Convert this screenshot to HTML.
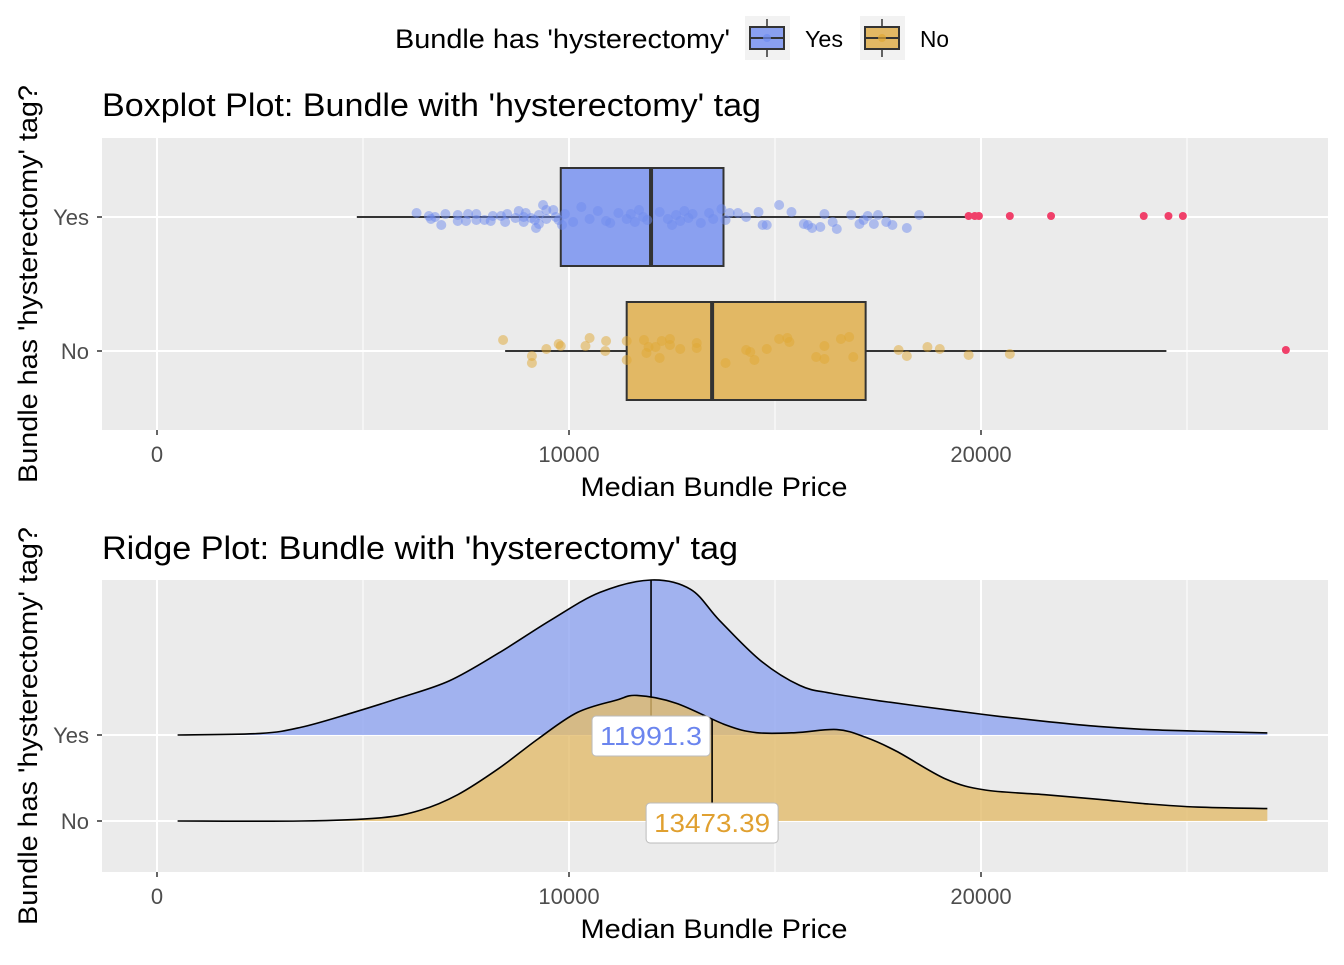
<!DOCTYPE html>
<html><head><meta charset="utf-8"><style>
body{margin:0;background:#fff}
text{font-family:"Liberation Sans",Arial,sans-serif}
</style></head><body>
<svg id="c" width="1344" height="960" viewBox="0 0 1344 960" xmlns="http://www.w3.org/2000/svg">
<g>
<text x="395" y="48" font-size="27" textLength="335" lengthAdjust="spacingAndGlyphs" fill="#000">Bundle has 'hysterectomy'</text>
<rect x="745" y="16" width="45" height="44" fill="#f2f2f2"/>
<line x1="767" y1="19" x2="767" y2="57" stroke="#333" stroke-width="1.5"/>
<rect x="750" y="27" width="34" height="22" fill="#8aa0f0" stroke="#333" stroke-width="2"/>
<line x1="750" y1="38" x2="784" y2="38" stroke="#333" stroke-width="2"/>
<circle cx="767" cy="38" r="4" fill="#6f8cee" opacity="0.7"/>
<text x="805" y="47" font-size="23" textLength="38" lengthAdjust="spacingAndGlyphs">Yes</text>
<rect x="860" y="16" width="45" height="44" fill="#f2f2f2"/>
<line x1="882" y1="19" x2="882" y2="57" stroke="#333" stroke-width="1.5"/>
<rect x="865" y="27" width="34" height="22" fill="#e2b864" stroke="#333" stroke-width="2"/>
<line x1="865" y1="38" x2="899" y2="38" stroke="#333" stroke-width="2"/>
<circle cx="882" cy="38" r="4" fill="#e0a733" opacity="0.7"/>
<text x="920" y="47" font-size="23" textLength="29" lengthAdjust="spacingAndGlyphs">No</text>
</g>
<text x="102" y="116" font-size="32" textLength="659" lengthAdjust="spacingAndGlyphs">Boxplot Plot: Bundle with 'hysterectomy' tag</text>
<text x="102" y="559" font-size="32" textLength="636" lengthAdjust="spacingAndGlyphs">Ridge Plot: Bundle with 'hysterectomy' tag</text>
<text transform="translate(37,284) rotate(-90)" text-anchor="middle" font-size="27" textLength="398" lengthAdjust="spacingAndGlyphs">Bundle has 'hysterectomy' tag?</text>
<text transform="translate(37,726) rotate(-90)" text-anchor="middle" font-size="27" textLength="398" lengthAdjust="spacingAndGlyphs">Bundle has 'hysterectomy' tag?</text>
<text x="714" y="496" text-anchor="middle" font-size="27" textLength="267" lengthAdjust="spacingAndGlyphs">Median Bundle Price</text>
<text x="714" y="938" text-anchor="middle" font-size="27" textLength="267" lengthAdjust="spacingAndGlyphs">Median Bundle Price</text>
<g id="p1"></g><g id="p2"></g>
</svg>
<script>
const ticks=[0,10000,20000];
const minorTicks=[5000,15000,25000];
const yesPoints=[6300,6600,6650,6750,6900,7000,7300,7300,7500,7550,7750,7750,7950,8150,8100,8350,8450,8500,8700,8780,8900,8900,8950,9080,9170,9200,9270,9270,9370,9450,9450,9620,9680,9750,9830,9900,10100,10300,10500,10700,10900,11000,11200,11400,11500,11600,11700,11800,11900,12200,12400,12500,12600,12700,12800,12900,13000,13200,13400,13500,13700,13800,13900,14100,14300,14600,14800,14700,15100,15400,15800,15700,15900,16100,16200,16500,16400,16850,17050,17500,17150,17250,17400,17700,17850,18200,18500];
const yesJitter=[-4,-1,2,0,8,-3,-2,4,4,-3,3,-3,3,-1,4,-1,5,-3,1,-6,0,5,-4,1,3,11,7,-2,-12,-7,2,-7,0,3,8,-3,5,-10,2,-6,4,6,-4,2,-3,5,-7,0,3,-5,2,8,-2,4,-6,1,-3,6,-4,2,-8,3,-4,-4,0,-5,8,8,-12,-5,8,7,11,10,-3,12,5,-2,7,-2,3,-1,7,5,8,11,-2];
const yesOutliers=[19700,19850,19950,20700,21700,23950,24550,24900];
const noPoints=[8400,9100,9100,9450,9800,9750,10400,10500,10880,10900,11400,11400,11820,11930,11880,12100,12200,12250,12450,12450,12700,13100,13100,13800,14300,14400,14500,14800,15100,15300,15350,16000,16200,16200,16900,18000,18200,19000,20700,18700,16600,16800,19700];
const noJitter=[-11,5,12,-2,-5,-7,-5,-13,0,-10,9,-10,-11,-4,2,-4,7,-10,-6,-12,-2,-8,-3,12,-1,1,9,-2,-12,-13,-9,6,8,-5,6,-1,5,-2,3,-4,-12,-14,4];
const noOutliers=[27400];
const yesBox={lo:4850,q1:9800,med:11991.3,q3:13750,hi:19650};
const noBox={lo:8450,q1:11400,med:13473.39,q3:17200,hi:24500};
const densX=[500,2500,3500,4700,5900,7100,8300,9550,10750,11991,12950,13650,14650,15600,16350,17550,19250,20450,21650,22850,24050,25250,26950];
const yesDens=[0,1,5,14,24,35,53,74,92,100,94,74,48,32,27,22,16,12,8.5,5.5,3.5,2.5,1.3];
const noDensX=[500,3500,5400,6400,7300,8300,9250,10200,11150,11650,12600,13800,14550,15500,16500,17200,17950,19150,20100,21550,22850,24050,25250,26950];
const noDens=[0,0,2,7,17,34,53,70,78,81,76,62,57,57,59,54,45,27,20,17,14,11,9,8];
const yesLabel="11991.3", noLabel="13473.39";

const NS="http://www.w3.org/2000/svg";
const X=v=>157+v*0.0412;
function el(p,tag,a){const e=document.createElementNS(NS,tag);for(const k in a)e.setAttribute(k,a[k]);p.appendChild(e);return e;}
function panel(g,top,bot,rowYs,name){
  const bg=el(g,'rect',{x:102,y:top,width:1226,height:bot-top,fill:'#ebebeb'});
  
  
  minorTicks.forEach(t=>el(g,'line',{x1:X(t),x2:X(t),y1:top,y2:bot,stroke:'#fff','stroke-width':1}));
  ticks.forEach(t=>{
    el(g,'line',{x1:X(t),x2:X(t),y1:top,y2:bot,stroke:'#fff','stroke-width':2});
    el(g,'line',{x1:X(t),x2:X(t),y1:bot,y2:bot+5,stroke:'#333','stroke-width':1.5});
    const tx=el(g,'text',{x:X(t),y:bot+32,'text-anchor':'middle','font-size':22,fill:'#4d4d4d'});tx.textContent=t;
    
    
  });
  rowYs.forEach(r=>{
    el(g,'line',{x1:102,x2:1328,y1:r[1],y2:r[1],stroke:'#fff','stroke-width':2});
    el(g,'line',{x1:97,x2:102,y1:r[1],y2:r[1],stroke:'#333','stroke-width':1.5});
    const tx=el(g,'text',{x:89,y:r[1]+8,'text-anchor':'end','font-size':22,fill:'#4d4d4d'});tx.textContent=r[0];
    
    
  });
}
const p1=document.getElementById('p1');
panel(p1,138,430,[['Yes',217],['No',351]],'boxplot');
function box(b,cy,fill,name){
  el(p1,'line',{x1:X(b.lo),x2:X(b.q1),y1:cy,y2:cy,stroke:'#333','stroke-width':2});
  el(p1,'line',{x1:X(b.q3),x2:X(b.hi),y1:cy,y2:cy,stroke:'#333','stroke-width':2});
  const r=el(p1,'rect',{x:X(b.q1),y:cy-49,width:X(b.q3)-X(b.q1),height:98,fill:fill,stroke:'#333','stroke-width':2});
  
  
  el(p1,'line',{x1:X(b.med),x2:X(b.med),y1:cy-49,y2:cy+49,stroke:'#333','stroke-width':4});
}
box(yesBox,217,'#8aa0f0','box-yes');
box(noBox,351,'#e2b864','box-no');
yesPoints.forEach((v,i)=>{const c=el(p1,'circle',{cx:X(v),cy:217+(yesJitter[i]||0),r:5,fill:'#6f8cee','fill-opacity':0.5});
  
  });
noPoints.forEach((v,i)=>{const c=el(p1,'circle',{cx:X(v),cy:351+(noJitter[i]||0),r:5,fill:'#e0a733','fill-opacity':0.5});
  
  });
yesOutliers.forEach(v=>{const c=el(p1,'circle',{cx:X(v),cy:216,r:4,fill:'#f0406a'});
  
  });
noOutliers.forEach(v=>{const c=el(p1,'circle',{cx:X(v),cy:350,r:4,fill:'#f0406a'});
  
  });

const p2=document.getElementById('p2');
panel(p2,580,872,[['Yes',735],['No',821]],'ridge');
const S=1.55;
function ridge(xs,ds,base,fill,name){
  const pts=xs.map((x,i)=>[X(x),base-ds[i]*S]);
  let line='M'+pts[0][0]+','+pts[0][1];
  for(let i=1;i<pts.length;i++){
    const p0=pts[Math.max(0,i-2)],p1_=pts[i-1],p2_=pts[i],p3=pts[Math.min(pts.length-1,i+1)];
    const c1=[p1_[0]+(p2_[0]-p0[0])/6,p1_[1]+(p2_[1]-p0[1])/6],c2=[p2_[0]-(p3[0]-p1_[0])/6,p2_[1]-(p3[1]-p1_[1])/6];
    line+=' C'+c1+' '+c2+' '+p2_;
  }
  const area=line+' L'+pts[pts.length-1][0]+','+base+' L'+pts[0][0]+','+base+'Z';
  const a=el(p2,'path',{d:area,fill:fill,'fill-opacity':0.8});
  
  
  el(p2,'path',{d:line,fill:'none',stroke:'#000','stroke-width':1.6});
}
function interp(xs,ds,v){for(let i=1;i<xs.length;i++)if(v<=xs[i]){const t=(v-xs[i-1])/(xs[i]-xs[i-1]);return ds[i-1]+t*(ds[i]-ds[i-1]);}return ds[ds.length-1];}
ridge(densX,yesDens,735,'#8fa4f0','ridge-yes');
el(p2,'line',{x1:X(yesBox.med),x2:X(yesBox.med),y1:735-interp(densX,yesDens,yesBox.med)*S,y2:735,stroke:'#000','stroke-width':1.6});
ridge(noDensX,noDens,821,'#e2bb6b','ridge-no');
el(p2,'line',{x1:X(noBox.med),x2:X(noBox.med),y1:821-interp(noDensX,noDens,noBox.med)*S,y2:805,stroke:'#000','stroke-width':1.6});
function label(v,y,txt,col,w,name){
  const r=el(p2,'rect',{x:X(v)-w/2,y:y-20,width:w,height:40,rx:4,fill:'#fff',stroke:'#bbb'});
  
  
  const t=el(p2,'text',{x:X(v),y:y+9,'text-anchor':'middle','font-size':26,textLength:w-16,lengthAdjust:'spacingAndGlyphs',fill:col});t.textContent=txt;
}
label(yesBox.med,736,yesLabel,'#6b85ee',118,'median-label-yes');
label(noBox.med,823,noLabel,'#e0a030',132,'median-label-no');
</script>
</body></html>
